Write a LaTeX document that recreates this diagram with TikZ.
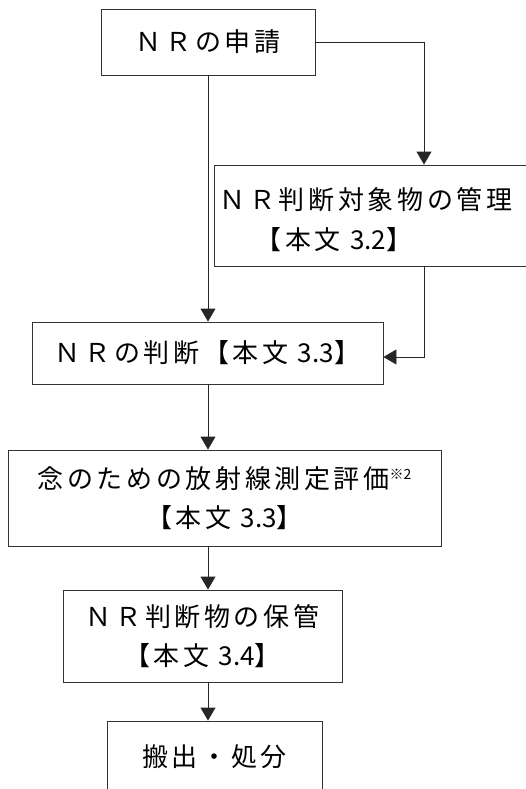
\documentclass[tikz,border=0pt]{standalone}
\usepackage{fontspec}
\newfontfamily\cjk{Noto Sans CJK JP}[LetterSpace=14]
\newfontfamily\cjkn{Noto Sans CJK JP}
\newcommand\plainnum[1]{{\cjkn #1}}
\usetikzlibrary{arrows.meta,calc}
\begin{document}
\begin{tikzpicture}[x=1pt,y=-1pt,
  box/.style={draw=black!80, line width=0.9pt, inner sep=0pt, align=center, font=\cjk\fontsize{26}{39}\selectfont},
  txt/.style={inner sep=0pt, font=\cjk\fontsize{26}{39}\selectfont},
  arr/.style={draw=black!85, line width=0.9pt, -{Triangle[width=15pt,length=13pt]}}]
\clip (0,0) rectangle (526,789);
\fill[white] (0,0) rectangle (526,789);
\coordinate (col) at (208,0);
\coordinate (jx) at (424,0);
\node[box, minimum width=214pt, minimum height=66pt] (n1) at (208,42) {ＮＲの申請};
\node[box, minimum width=326pt, minimum height=101pt] (n2) at (377,215.5) {};
\node[txt] (t2a) at (366,200) {ＮＲ判断対象物の管理};
\node[txt] (t2b) at (334,240) {【本文 \plainnum{3.2}】};
\node[box, minimum width=351pt, minimum height=62pt] (n3) at (207.5,353) {ＮＲの判断【本文 \plainnum{3.3}】};
\node[box, minimum width=433pt, minimum height=96pt] (n4) at (224.5,498) {念のための放射線測定評価\raisebox{9pt}{\plainnum{\fontsize{14}{14}\selectfont ※2}}\\【本文 \plainnum{3.3}】};
\node[box, minimum width=279pt, minimum height=92pt] (n5) at (202.5,636) {ＮＲ判断物の保管\\【本文 \plainnum{3.4}】};
\node[box, minimum width=215pt, minimum height=71pt] (n6) at (214.5,756.5) {搬出・処分};
\draw[arr] (n1.east) -| (n2.north -| jx);
\draw[arr] (n1.south -| col) -- (n3.north -| col);
\draw[arr] (n2.south -| jx) |- ($(n3.east)+(0,4)$);
\draw[arr] (n3.south -| col) -- (n4.north -| col);
\draw[arr] (n4.south -| col) -- (n5.north -| col);
\draw[arr] (n5.south -| col) -- (n6.north -| col);
\end{tikzpicture}
\end{document}
